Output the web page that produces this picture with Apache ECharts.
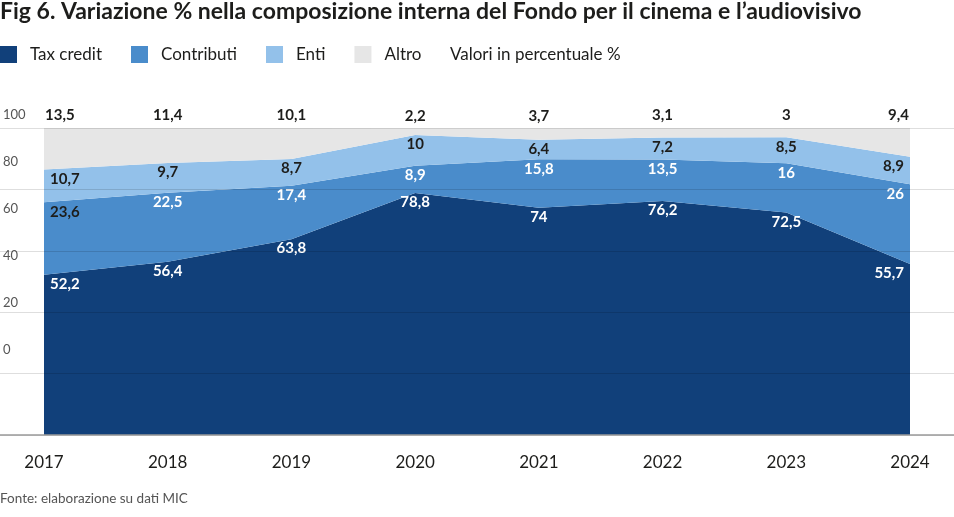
<!DOCTYPE html>
<html>
<head>
<meta charset="utf-8">
<script src="https://cdn.jsdelivr.net/npm/echarts@6/dist/echarts.min.js"></script>
<style>
html,body{margin:0;padding:0;background:#fff;}
#c{width:954px;height:517px;}
</style>
</head>
<body>
<div id="c"></div>
<script>
var years = ['2017','2018','2019','2020','2021','2022','2023','2024'];
var taxCredit = [52.2, 56.4, 63.8, 78.8, 74, 76.2, 72.5, 55.7];
var contributi = [23.6, 22.5, 17.4, 8.9, 15.8, 13.5, 16, 26];
var enti = [10.7, 9.7, 8.7, 10, 6.4, 7.2, 8.5, 8.9];
var altro = [13.5, 11.4, 10.1, 2.2, 3.7, 3.1, 3, 9.4];
var yTicks = [0, 20, 40, 60, 80, 100];

var FONT = 'Lato';
var DARK = '#1d1d1b';

function fmt(v){ return String(v).replace('.', ','); }

function buildData(vals, edgeOffset, firstColor){
  var n = vals.length;
  return vals.map(function(v, i){
    var o = {value: v};
    if (i === 0) {
      o.label = {align: 'left', offset: [edgeOffset, 0]};
      if (firstColor) o.label.color = firstColor;
    } else if (i === n - 1) {
      o.label = {align: 'right', offset: [-edgeOffset, 0]};
    }
    return o;
  });
}

function areaSeries(name, vals, color, labelColor, pos, dist, edgeOffset, firstColor){
  return {
    name: name,
    type: 'line',
    stack: 'total',
    xAxisIndex: 0,
    yAxisIndex: 0,
    data: buildData(vals, edgeOffset, firstColor),
    symbol: 'circle',
    symbolSize: 0,
    showSymbol: true,
    lineStyle: {width: 0, color: color},
    itemStyle: {color: color},
    areaStyle: {color: color, opacity: 1},
    emphasis: {disabled: true},
    z: 2,
    label: {
      show: true,
      position: pos,
      distance: dist,
      color: labelColor,
      fontFamily: FONT,
      fontSize: 15,
      fontWeight: 'bold',
      formatter: function(p){ return fmt(p.value); }
    }
  };
}

var chart = echarts.init(document.getElementById('c'));
chart.setOption({
  animation: false,
  backgroundColor: '#fff',
  title: [
    {text: 'Fig 6. Variazione % nella composizione interna del Fondo per il cinema e l\u2019audiovisivo',
     left: 0, top: 0, padding: 0,
     textStyle: {fontFamily: FONT, fontSize: 23, fontWeight: 'bold', color: '#1d1d1b'}},
    {text: 'Valori in percentuale %', left: 450, top: 46, padding: 0,
     textStyle: {fontFamily: FONT, fontSize: 17, fontWeight: 'normal', color: '#1d1d1b'}},
    {text: 'Fonte: elaborazione su dati MIC', left: 0, top: 492, padding: 0,
     textStyle: {fontFamily: FONT, fontSize: 13.5, fontWeight: 'normal', color: '#555'}}
  ],
  legend: {
    left: 0, top: 46, padding: 0,
    icon: 'rect', itemWidth: 17, itemHeight: 17, itemGap: 29,
    selectedMode: false,
    textStyle: {fontFamily: FONT, fontSize: 17, color: '#1d1d1b', padding: [0,0,0,8]},
    data: ['Tax credit', 'Contributi', 'Enti', 'Altro']
  },
  grid: [
    {left: 44, right: 44, top: 128, bottom: 82},
    {left: 0, right: 0, top: 128, bottom: 82},
    {left: 44, right: 44, top: 115, bottom: 167.5}
  ],
  xAxis: [
    {type: 'category', gridIndex: 0, data: years, boundaryGap: false,
     axisLine: {show: false}, axisTick: {show: false}, splitLine: {show: false},
     axisLabel: {fontFamily: FONT, fontSize: 17, color: '#1d1d1b', margin: 19}},
    {type: 'value', gridIndex: 1, show: false, min: 0, max: 1},
    {type: 'value', gridIndex: 2, show: false, min: 0, max: 1}
  ],
  yAxis: [
    {type: 'value', gridIndex: 0, min: 0, max: 100, interval: 20, show: false},
    {type: 'value', gridIndex: 1, min: 0, max: 100, interval: 20, z: 5,
     axisLine: {show: false}, axisTick: {show: false}, axisLabel: {show: false},
     splitLine: {show: true, lineStyle: {color: 'rgba(0,0,0,0.13)', width: 1}}},
    {type: 'value', gridIndex: 2, min: 0, max: 100, interval: 20,
     axisLine: {show: false}, axisTick: {show: false}, splitLine: {show: false},
     axisLabel: {align: 'left', margin: 42, fontFamily: FONT, fontSize: 13, color: '#555',
       formatter: function(v){ return yTicks.indexOf(v) >= 0 ? String(v) : ''; }}}
  ],
  series: [
    areaSeries('Tax credit', taxCredit, '#11407a', '#ffffff', 'bottom', 2, 6),
    areaSeries('Contributi', contributi, '#4a8ccb', '#ffffff', 'bottom', 2, 6, DARK),
    areaSeries('Enti', enti, '#93c1ea', DARK, 'bottom', 2, 6),
    areaSeries('Altro', altro, '#e6e6e6', DARK, 'top', 5, 1),
    {type: 'line', xAxisIndex: 1, yAxisIndex: 1, data: [], silent: true,
     markLine: {silent: true, symbol: 'none', label: {show: false},
       lineStyle: {color: '#9a9a9a', width: 1.5, type: 'solid'},
       data: [{yAxis: 0}]}, z: 6}
  ]
});
</script>
</body>
</html>
